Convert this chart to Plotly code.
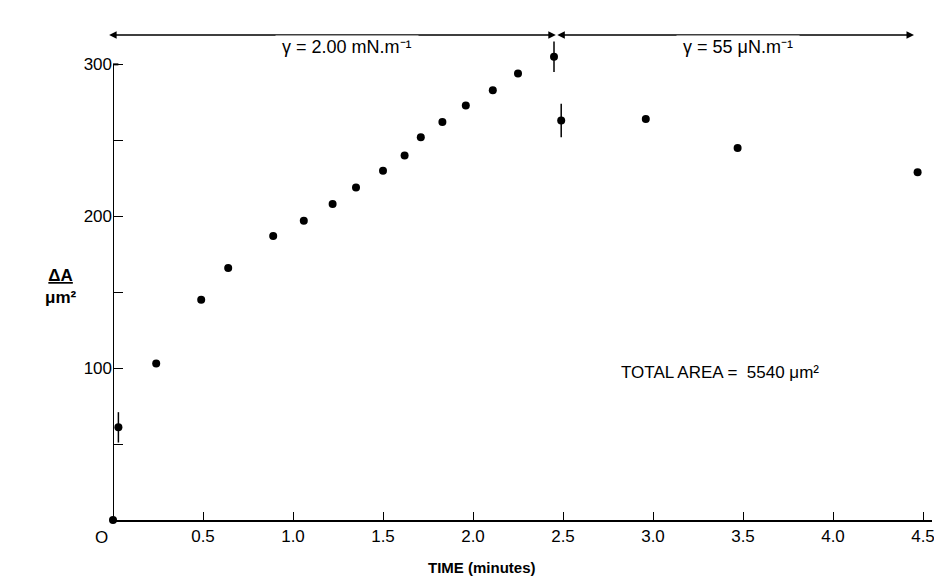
import plotly.graph_objects as go

time_min = [0.0, 0.03, 0.24, 0.49, 0.64, 0.89, 1.06, 1.22, 1.35, 1.50, 1.62, 1.71, 1.83, 1.96, 2.11, 2.25, 2.45, 2.49, 2.96, 3.47, 4.47]
delta_a = [0, 61, 103, 145, 166, 187, 197, 208, 219, 230, 240, 252, 262, 273, 283, 294, 305, 263, 264, 245, 229]
err = [0, 10, 0, 0, 0, 0, 0, 0, 0, 0, 0, 0, 0, 0, 0, 0, 10, 11, 0, 0, 0]
xticks = [0.5, 1.0, 1.5, 2.0, 2.5, 3.0, 3.5, 4.0, 4.5]
yticks = [50, 100, 150, 200, 250, 300]
ylabels = ["", "100", "", "200", "", "300"]

fig = go.Figure()
fig.add_trace(go.Scatter(x=time_min, y=delta_a, mode="markers",
    marker=dict(color="black", size=8),
    error_y=dict(type="data", array=err, color="black", thickness=1.5, width=0),
    showlegend=False, cliponaxis=False))

fig.update_layout(
    width=942, height=576, plot_bgcolor="white", paper_bgcolor="white",
    margin=dict(l=105, r=18, t=26, b=64),
    font=dict(family="Liberation Sans, Arial", size=16, color="black"),
    xaxis=dict(range=[0, 4.55], tickvals=xticks, ticktext=[f"{v:.1f}" for v in xticks],
               ticks="inside", ticklen=8, tickcolor="black", showline=True, linecolor="black",
               linewidth=2, showgrid=False, zeroline=False, tickfont=dict(size=17), automargin=False),
    yaxis=dict(range=[0, 320], tickvals=yticks, ticktext=ylabels,
               ticks="inside", ticklen=10, tickcolor="black", showline=False,
               showgrid=False, zeroline=False, tickfont=dict(size=17), automargin=False),
)
fig.add_shape(type="line", x0=0, x1=0, y0=0, y1=300, xref="x", yref="y", line=dict(color="black", width=2))
fig.add_shape(type="line", x0=0, x1=0.03, y0=300, y1=300, xref="x", yref="y", line=dict(color="black", width=2))
fig.add_annotation(x=0, y=0, xref="x", yref="y", text="O", showarrow=False, xshift=-12, yshift=-17, font=dict(size=17))
fig.add_annotation(x=0.45, y=-0.12, xref="paper", yref="paper", text="<b>TIME (minutes)</b>", showarrow=False, font=dict(size=15))
fig.add_annotation(x=-0.085, y=0.48, xref="paper", yref="paper", text="<b><u>ΔA</u></b><br><b>μm²</b>", showarrow=False, font=dict(size=17))
fig.add_annotation(x=3.37, y=97, xref="x", yref="y", text="TOTAL AREA =  5540 μm²", showarrow=False, font=dict(size=17))

ya = 0.998
for x0, x1 in [(-0.03, 2.46), (2.46, 4.45)]:
    fig.add_annotation(x=x1, y=ya, ax=x0, ay=ya, xref="x", yref="y domain", axref="x", ayref="y domain",
                       text="", showarrow=True, arrowhead=2, startarrowhead=2, arrowside="end+start",
                       arrowwidth=1.5, arrowcolor="black")
fig.add_annotation(x=1.30, y=ya, xref="x", yref="y domain", text=" γ = 2.00 mN.m⁻¹ ", showarrow=False,
                   bgcolor="white", font=dict(size=18))
fig.add_annotation(x=3.47, y=ya, xref="x", yref="y domain", text=" γ = 55 μN.m⁻¹ ", showarrow=False,
                   bgcolor="white", font=dict(size=18))

fig.write_html("out.html")
